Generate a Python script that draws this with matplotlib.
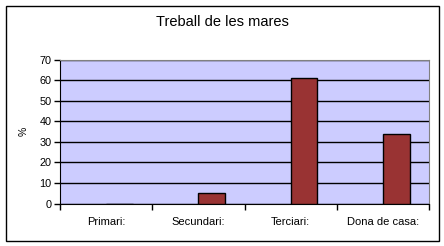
import numpy as np
import matplotlib
matplotlib.use('Agg')
import matplotlib.pyplot as plt
from matplotlib.patches import Rectangle

plt.rcParams['font.family'] = ['Liberation Sans', 'DejaVu Sans']

categories = ['Primari:', 'Secundari:', 'Terciari:', 'Dona de casa:']
values = [0, 5, 61.2, 34]
yticks = [0, 10, 20, 30, 40, 50, 60, 70]

W, H = 444, 246
fig = plt.figure(figsize=(W / 100, H / 100), dpi=100)
fig.patch.set_facecolor('white')

# chart border
fig.patches.append(Rectangle((5.5 / W, 1 - 240.5 / H), 433 / W, 235 / H,
                             transform=fig.transFigure, fill=False,
                             edgecolor='black', linewidth=1))

ax = fig.add_axes([60 / W, 1 - 203.5 / H, 369 / W, 144 / H])
ax.set_facecolor('#CCCCFF')

x = np.arange(len(categories))
ax.bar(x, values, width=0.29, align='edge', color='#993333',
       edgecolor='black', linewidth=1, zorder=3)

ax.set_xlim(-0.5, 3.5)
ax.set_ylim(0, 70)
ax.set_yticks(yticks)
ax.set_yticklabels([str(v) for v in yticks], fontsize=7.8)
ax.yaxis.grid(True, color='black', linewidth=1, zorder=1)
ax.set_axisbelow(True)

ax.set_xticks(np.arange(-0.5, 4.0, 1.0))
ax.set_xticklabels([])
ax.set_xticks(x, minor=True)
ax.set_xticklabels(categories, minor=True, fontsize=8)
ax.tick_params(axis='x', which='minor', length=0, pad=10)
ax.tick_params(axis='x', which='major', length=4, direction='out', width=1)
ax.tick_params(axis='y', length=4, direction='out', width=1, pad=2)

ax.spines['top'].set_color('#808080')
ax.spines['right'].set_color('#808080')
ax.spines['left'].set_color('black')
ax.spines['bottom'].set_color('black')

ax.set_ylabel('%', fontsize=7.5, labelpad=8)
fig.text(222 / W, 1 - 22 / H, 'Treball de les mares', ha='center',
         va='center', fontsize=10.5)

fig.savefig('out.png', dpi=100)
